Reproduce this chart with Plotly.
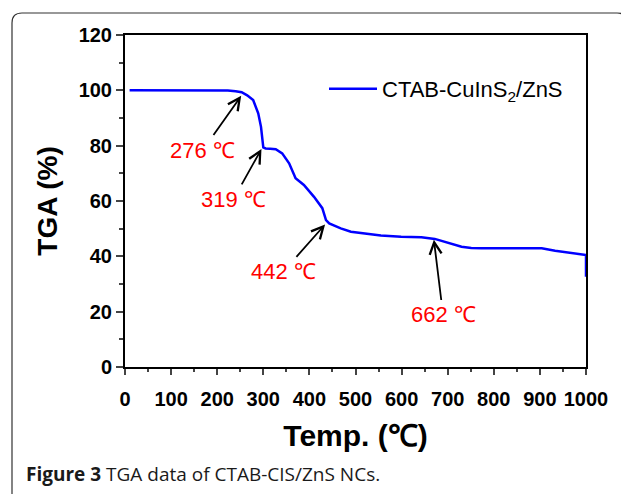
import plotly.graph_objects as go

# ---- data ----
temp_c = [10, 50, 100, 150, 200, 223, 240, 253, 265, 278, 289, 295, 300, 305, 315,
          327, 341, 356, 367, 370, 388, 410, 428, 436, 443, 468, 490, 527, 555, 599,
          643, 672, 690, 708, 730, 751, 773, 850, 904, 933, 977, 1000, 1000]
tga_pct = [100, 100, 100, 100, 100, 99.9, 99.7, 99.3, 98.2, 96.5, 91.7, 86.8, 79.4, 79.0, 78.9,
           78.7, 77.2, 73.6, 69.4, 68.2, 65.8, 61.5, 57.4, 53.1, 51.9, 50.1, 48.9, 48.1, 47.5, 47.1,
           46.9, 46.3, 45.5, 44.7, 43.5, 43.0, 42.9, 42.9, 42.9, 42.0, 41.1, 40.5, 32.6]
series_name = "CTAB-CuInS<sub>2</sub>/ZnS"

# annotated transition temperatures: label, arrow head (T, %), label centre (T, %)
event_labels = ["276 ℃", "319 ℃", "442 ℃", "662 ℃"]
arrow_head = [(252, 98.0), (296, 78.8), (434, 51.5), (670, 46.0)]
label_pos = [(169, 78.4), (235, 60.6), (343, 34.4), (690, 18.8)]

x_ticks = list(range(0, 1001, 100))
y_ticks = list(range(0, 121, 20))

# page body has an 8px margin; the figure is sized to fit the window
BODY = 8
W, H = 629 - BODY, 494 - BODY
PL, PR, PT, PB = 125, 586, 35, 367          # plot area in window pixels
ML, MT = PL - BODY, PT - BODY
MR, MB = W - (PR - BODY), H - (PB - BODY)
PW, PH = PR - PL, PB - PT

def px(x):
    return (x - PL) / PW

def py(y):
    return (PB - y) / PH

FONT = "Arial, 'Liberation Sans', sans-serif"

fig = go.Figure()
fig.add_trace(go.Scatter(x=temp_c, y=tga_pct, mode="lines", name=series_name,
                         line=dict(color="#0000ff", width=2.5)))

annotations = []
for lab, (hx, hy), (lx, ly) in zip(event_labels, arrow_head, label_pos):
    annotations.append(dict(x=hx, y=hy, ax=lx, ay=ly, xref="x", yref="y", axref="x", ayref="y",
                            text=lab, showarrow=True, arrowhead=5, arrowsize=1.3,
                            arrowwidth=1.8, arrowcolor="black", borderpad=2,
                            font=dict(family=FONT, size=22, color="#ff0000")))
annotations.append(dict(x=px(24), y=py(474), xref="paper", yref="paper", xanchor="left",
                        yanchor="middle", showarrow=False,
                        text="<b>Figure 3</b> TGA data of CTAB-CIS/ZnS NCs.",
                        font=dict(family="'Open Sans', sans-serif", size=19, color="#1a1a1a")))

# rounded outer frame (open at the bottom)
x0, x1, yt, yb = px(12), px(627), py(13), py(510)
rx, ry = 10 / PW, 10 / PH
path = (f"M {x0},{yb} L {x0},{yt - ry} Q {x0},{yt} {x0 + rx},{yt} "
        f"L {x1 - rx},{yt} Q {x1},{yt} {x1},{yt - ry} L {x1},{yb}")

fig.update_layout(
    width=W, height=H,
    margin=dict(l=ML, r=MR, t=MT, b=MB, autoexpand=False),
    paper_bgcolor="white", plot_bgcolor="white",
    font=dict(family=FONT, color="black"),
    showlegend=True,
    legend=dict(x=px(324), y=py(89), xanchor="left", yanchor="middle", itemwidth=48,
                bgcolor="rgba(0,0,0,0)", font=dict(size=22, family=FONT)),
    annotations=annotations,
    shapes=[dict(type="path", path=path, xref="paper", yref="paper",
                 line=dict(color="#333333", width=1.2))],
    xaxis=dict(range=[0, 1000], tickvals=x_ticks, ticks="outside", ticklen=6, tickwidth=2,
               showline=True, linewidth=2, linecolor="black", mirror=True, showgrid=False,
               zeroline=False, ticklabelstandoff=7,
               tickfont=dict(size=20, family=FONT, weight="bold"),
               minor=dict(dtick=50, ticks="outside", ticklen=3, tickwidth=2, showgrid=False),
               title=dict(text="Temp. (℃)", font=dict(size=30, family=FONT, weight="bold"),
                          standoff=16)),
    yaxis=dict(range=[0, 120], tickvals=y_ticks, ticks="outside", ticklen=7, tickwidth=2,
               showline=True, linewidth=2, linecolor="black", mirror=True, showgrid=False,
               zeroline=False,
               tickfont=dict(size=20, family=FONT, weight="bold"),
               minor=dict(dtick=10, ticks="outside", ticklen=4, tickwidth=2, showgrid=False),
               title=dict(text="TGA (%)", font=dict(size=28, family=FONT, weight="bold"),
                          standoff=13)),
)

fig.write_html("out.html")
